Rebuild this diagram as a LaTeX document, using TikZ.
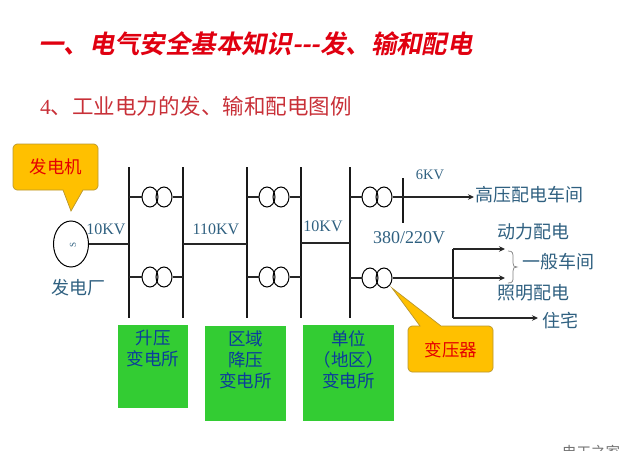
\documentclass[tikz,border=0pt]{standalone}
\usepackage{fontspec}
\setmainfont{Liberation Serif}
\newfontfamily\cjk{Noto Sans CJK SC}
\newfontfamily\cjkbold[FakeSlant=0.2]{Noto Sans CJK SC Bold}
\usetikzlibrary{arrows.meta,shapes.geometric}
\definecolor{labelblue}{HTML}{2F6080}
\definecolor{boxgreen}{HTML}{33CC33}
\definecolor{boxtext}{HTML}{0B3C9C}
\definecolor{callfill}{HTML}{FFC000}
\definecolor{calledge}{HTML}{B8962E}
\definecolor{titlered}{HTML}{E00010}
\definecolor{subred}{HTML}{C83038}
\tikzset{
  x=1pt,y=-1pt,
  wire/.style={line width=1.3pt,black!85},
  busbar/.style={line width=1.6pt,black!90},
  arrowwire/.style={wire,-{Stealth[length=6pt,width=5.5pt]}},
  coil/.style={draw,line width=1pt,ellipse,minimum width=16pt,minimum height=20pt,inner sep=0pt,fill=none},
  lab/.style={font=\cjk\fontsize{18}{18}\selectfont,text=labelblue,inner sep=0pt},
  volt/.style={font=\fontsize{16}{16}\selectfont,text=labelblue,inner sep=0pt},
  substation/.style={fill=boxgreen,draw=none,inner sep=0pt,anchor=north west},
  subtext/.style={font=\cjk\fontsize{17.5}{21}\selectfont,text=boxtext,align=center,inner sep=0pt,anchor=north},
  calltext/.style={font=\cjk\fontsize{17.5}{18}\selectfont,text=red!90!black,inner sep=0pt},
  callout/.style={fill=callfill,draw=calledge,line width=0.7pt}
}
\begin{document}
\begin{tikzpicture}
\useasboundingbox (0,0) rectangle (640,450);
% headings
\node[anchor=west,inner sep=0pt,text=titlered,font=\cjkbold\fontsize{25.4}{25.4}\selectfont] (title) at (38,44) {一、电气安全基本知识---发、输和配电};
\node[anchor=west,inner sep=0pt,text=subred,font=\fontsize{21.5}{21.5}\selectfont] (subtitle) at (40,106) {4{\cjk、工业电力的发、输和配电图例}};
% bus coordinates
\foreach \n/\xx in {a/129,b/183,c/247,d/301,e/350}{
  \coordinate (\n t) at (\xx,167);
  \coordinate (\n b) at (\xx,318);
  \coordinate (\n u) at (\xx,197);
  \coordinate (\n l) at (\xx,277);
  \coordinate (\n m) at (\xx,244);
  \coordinate (\n q) at (\xx,243);
  \coordinate (\n r) at (\xx,278);
  \draw[busbar] (\n t) -- (\n b);
}
% generator
\node[draw,line width=1pt,ellipse,minimum width=35pt,minimum height=46pt,inner sep=0pt] (gen) at (71,244) {};
\node[rotate=90,text=labelblue,font=\fontsize{9}{9}\selectfont,inner sep=0pt] (genS) at (73,245) {S};
\draw[wire] (gen.east) -- (am);
\draw[wire] (bm) -- (cm);
\draw[wire] (dq) -- (eq);
% transformers
\foreach \n/\xx/\yy in {t1/150/197,t2/150/277,t3/267/197,t4/267/277,t5/370/197,t6/370/278}{
  \node[coil] (\n L) at (\xx,\yy) {};
  \node[coil] (\n R) at (\xx+14,\yy) {};
}
\draw[wire] (au) -- (t1L.west); \draw[wire] (t1R.east) -- (bu);
\draw[wire] (al) -- (t2L.west); \draw[wire] (t2R.east) -- (bl);
\draw[wire] (cu) -- (t3L.west); \draw[wire] (t3R.east) -- (du);
\draw[wire] (cl) -- (t4L.west); \draw[wire] (t4R.east) -- (dl);
\draw[wire] (eu) -- (t5L.west);
\draw[wire] (er) -- (t6L.west);
% right side
\coordinate (sixt) at (403,178);
\coordinate (sixb) at (403,223);
\draw[busbar] (sixt) -- (sixb);
\coordinate (hv) at (474,197);
\draw[arrowwire] (t5R.east) -- (hv);
\coordinate (dt) at (453,249);
\coordinate (db) at (453,318);
\coordinate (pw) at (505,249);
\coordinate (lt) at (505,278);
\coordinate (rs) at (538,318);
\draw[busbar] (dt) -- (db);
\draw[arrowwire] (dt) -- (pw);
\draw[arrowwire] (t6R.east) -- (lt);
\draw[arrowwire] (db) -- (rs);
% brace
\draw[gray,line width=0.7pt] (508,251) .. controls (513,251) and (513,253) .. (513,258) -- (513,263) .. controls (513,266) and (514,267) .. (517,267) .. controls (514,267) and (513,268) .. (513,271) -- (513,277) .. controls (513,281) and (513,283) .. (508,283);
% labels
\node[volt] (v1) at (106,229) {10KV};
\node[volt] (v2) at (216,229) {110KV};
\node[volt] (v3) at (323,226) {10KV};
\node[volt,font=\fontsize{14.5}{16}\selectfont] (v4) at (430,175) {6KV};
\node[volt,font=\fontsize{18}{18}\selectfont] (v5) at (409,238) {380/220V};
\node[lab] (l0) at (78,288) {发电厂};
\node[lab] (l1) at (529.5,195) {高压配电车间};
\node[lab] (l2) at (533.5,232) {动力配电};
\node[lab] (l3) at (558,262) {一般车间};
\node[lab] (l4) at (533.5,293) {照明配电};
\node[lab] (l5) at (560,321) {住宅};
% substations
\node[substation,minimum width=70pt,minimum height=83pt] (s1) at (118,325) {};
\node[substation,minimum width=81pt,minimum height=95pt] (s2) at (205,326) {};
\node[substation,minimum width=91pt,minimum height=96pt] (s3) at (303,325) {};
\node[subtext,yshift=-5pt] (s1t) at (s1.north) {升压\\变电所};
\node[subtext,yshift=-5pt] (s2t) at (s2.north) {区域\\降压\\变电所};
\node[subtext,yshift=-5pt] (s3t) at (s3.north) {单位\\（地区）\\变电所};
% callouts
\draw[callout] (13,148) -- (13,186) .. controls (13,188) and (15,190) .. (17,190) -- (63,190) -- (71,211) -- (83,190) -- (94,190) .. controls (96,190) and (98,188) .. (98,186) -- (98,148) .. controls (98,146) and (96,144) .. (94,144) -- (17,144) .. controls (15,144) and (13,146) .. (13,148) -- cycle;
\node[calltext] (c1) at (56,167) {发电机};
\draw[callout] (408,330) -- (408,368) .. controls (408,370) and (410,372) .. (412,372) -- (489,372) .. controls (491,372) and (493,370) .. (493,368) -- (493,330) .. controls (493,328) and (491,326) .. (489,326) -- (441,326) -- (392,288) -- (420,326) -- (412,326) .. controls (410,326) and (408,328) .. (408,330) -- cycle;
\node[calltext] (c2) at (451,350) {变压器};
% watermark, cut off by the lower page edge
\node[inner sep=0pt,text=black!55,font=\cjk\fontsize{14.5}{14.5}\selectfont] (mark) at (591,452) {电工之家};
\end{tikzpicture}
\end{document}
